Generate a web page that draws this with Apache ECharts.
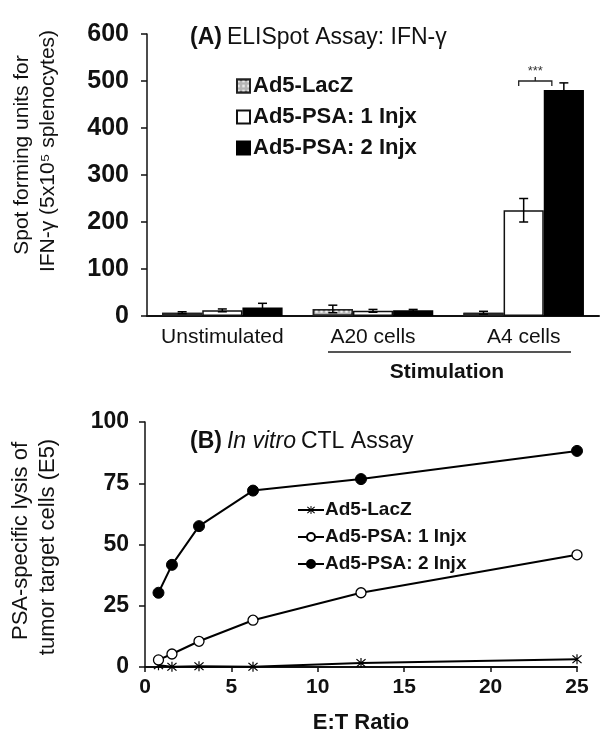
<!DOCTYPE html>
<html>
<head>
<meta charset="utf-8">
<script src="https://cdn.jsdelivr.net/npm/echarts@6/dist/echarts.min.js"></script>
<style>
  html, body { margin: 0; padding: 0; background: #fff; }
  #chart { width: 600px; height: 735px; }
</style>
</head>
<body>
<div id="chart"></div>
<script>
// (A) ELISpot
const categories = ['Unstimulated', 'A20 cells', 'A4 cells'];
const laczSpots = [7, 15, 7];
const laczErr = [2, 8, 3];
const psa1Spots = [12, 11, 225];
const psa1Err = [3, 3, 25];
const psa2Spots = [18, 12, 481];
const psa2Err = [9, 2, 15];
const sigMark = [2, 500]; // category index, level of the *** bracket

// (B) CTL assay
const etRatio = [0.78, 1.56, 3.125, 6.25, 12.5, 25];
const laczLysis = [0.7, 0.1, 0.3, 0.1, 1.6, 3.2];
const psa1Lysis = [2.9, 5.3, 10.5, 19.1, 30.3, 45.8];
const psa2Lysis = [30.3, 41.7, 57.5, 72, 76.7, 88.2];

const FONT = '"Liberation Sans", Arial, sans-serif';
const INK = '#111';
const star = 'path://M9 0L11 0L11 20L9 20Z M1.5 3L3 1.5L18.5 17L17 18.5Z M17 1.5L18.5 3L3 18.5L1.5 17Z';

function errorSeries(values, errs, pos) {
  return {
    type: 'custom',
    xAxisIndex: 0,
    yAxisIndex: 0,
    silent: true,
    z: 5,
    data: values.map((v, i) => [i, v, errs[i]]),
    renderItem: function (params, api) {
      const i = api.value(0), v = api.value(1), e = api.value(2);
      const band = api.size([1, 0])[0];
      const x = api.coord([i, v])[0] + (pos - 1) * band * 0.8 / 3;
      const top = api.coord([i, v + e])[1];
      const bot = api.coord([i, Math.max(v - e, 0)])[1];
      const cap = 4.5;
      const style = { stroke: '#000', lineWidth: 1.5 };
      return {
        type: 'group',
        children: [
          { type: 'line', shape: { x1: x, y1: top, x2: x, y2: bot }, style },
          { type: 'line', shape: { x1: x - cap, y1: top, x2: x + cap, y2: top }, style },
          { type: 'line', shape: { x1: x - cap, y1: bot, x2: x + cap, y2: bot }, style }
        ]
      };
    }
  };
}

const chart = echarts.init(document.getElementById('chart'));

const option = {
  animation: false,
  backgroundColor: '#fff',
  textStyle: { fontFamily: FONT, color: INK },
  title: [
    {
      text: '{b|(A)} {n|ELISpot Assay: IFN-γ}',
      left: 185, top: 20,
      textStyle: {
        fontWeight: 'normal',
        rich: {
          b: { fontFamily: FONT, fontSize: 23, fontWeight: 'bold', color: INK, lineHeight: 26 },
          n: { fontFamily: FONT, fontSize: 23, fontWeight: 'normal', color: INK, lineHeight: 26 }
        }
      }
    },
    {
      text: '{b|(B)} {i|In vitro} {n|CTL Assay}',
      left: 185, top: 424,
      textStyle: {
        fontWeight: 'normal',
        rich: {
          b: { fontFamily: FONT, fontSize: 23, fontWeight: 'bold', color: INK, lineHeight: 26 },
          i: { fontFamily: FONT, fontSize: 23, fontWeight: 'normal', fontStyle: 'italic', color: INK, lineHeight: 26 },
          n: { fontFamily: FONT, fontSize: 23, fontWeight: 'normal', color: INK, lineHeight: 26 }
        }
      }
    }
  ],
  legend: [
    {
      data: ['Ad5-LacZ', 'Ad5-PSA: 1 Injx', 'Ad5-PSA: 2 Injx'],
      orient: 'vertical',
      left: 231, top: 70,
      icon: 'rect',
      itemWidth: 13, itemHeight: 13,
      itemGap: 9,
      selectedMode: false,
      textStyle: { fontFamily: FONT, fontSize: 22, fontWeight: 'bold', color: INK, lineHeight: 22, padding: [0, 0, 0, -2] }
    },
    {
      data: ['Ad5-LacZ ', 'Ad5-PSA: 1 Injx ', 'Ad5-PSA: 2 Injx '],
      orient: 'vertical',
      left: 292, top: 495,
      itemWidth: 26, itemHeight: 10,
      itemGap: 7,
      selectedMode: false,
      formatter: name => name.trim(),
      textStyle: { fontFamily: FONT, fontSize: 19, fontWeight: 'bold', color: INK, lineHeight: 20, padding: [0, 0, 0, -4] }
    }
  ],
  grid: [
    { left: 147, top: 34, width: 452, height: 282 },
    { left: 145, top: 422, width: 432, height: 252 }
  ],
  xAxis: [
    {
      type: 'category',
      gridIndex: 0,
      data: categories,
      axisLine: { lineStyle: { color: '#111', width: 2 } },
      axisTick: { show: false },
      axisLabel: { interval: 0, fontFamily: FONT, fontSize: 21, color: INK, margin: 11 }
    },
    {
      type: 'value',
      gridIndex: 1,
      min: 0, max: 25, interval: 5,
      splitLine: { show: false },
      axisLine: { onZero: false, lineStyle: { color: '#111', width: 2 } },
      axisTick: { show: true, length: 5, lineStyle: { color: '#111', width: 1.5 } },
      axisLabel: { fontFamily: FONT, fontSize: 21, fontWeight: 'bold', color: INK, margin: 10 },
      name: 'E:T Ratio',
      nameLocation: 'middle',
      nameGap: 45,
      nameTextStyle: { fontFamily: FONT, fontSize: 22, fontWeight: 'bold', color: INK }
    }
  ],
  yAxis: [
    {
      type: 'value',
      gridIndex: 0,
      min: 0, max: 600, interval: 100,
      splitLine: { show: false },
      axisLine: { show: true, lineStyle: { color: '#111', width: 1.5 } },
      axisTick: { show: true, length: 6, lineStyle: { color: '#111', width: 1.5 } },
      axisLabel: { fontFamily: FONT, fontSize: 25, fontWeight: 'bold', color: INK, margin: 18 }
    },
    {
      type: 'value',
      gridIndex: 1,
      min: 0, max: 100, interval: 25,
      splitLine: { show: false },
      axisLine: { show: true, lineStyle: { color: '#111', width: 1.5 } },
      axisTick: { show: true, length: 6, lineStyle: { color: '#111', width: 1.5 } },
      axisLabel: { fontFamily: FONT, fontSize: 23, fontWeight: 'bold', color: INK, margin: 16 }
    }
  ],
  series: [
    {
      name: 'Ad5-LacZ',
      type: 'bar',
      xAxisIndex: 0, yAxisIndex: 0,
      data: laczSpots,
      barGap: 0,
      barCategoryGap: '20%',
      itemStyle: {
        color: '#b5b5b5',
        borderColor: '#222',
        borderWidth: 1.5,
        decal: {
          symbol: 'rect',
          symbolSize: 0.8,
          color: 'rgba(255,255,255,0.85)',
          dashArrayX: [3, 2],
          dashArrayY: [3, 2],
          rotation: 0
        }
      }
    },
    {
      name: 'Ad5-PSA: 1 Injx',
      type: 'bar',
      xAxisIndex: 0, yAxisIndex: 0,
      data: psa1Spots,
      barGap: 0,
      barCategoryGap: '20%',
      itemStyle: { color: '#fff', borderColor: '#111', borderWidth: 1.5 }
    },
    {
      name: 'Ad5-PSA: 2 Injx',
      type: 'bar',
      xAxisIndex: 0, yAxisIndex: 0,
      data: psa2Spots,
      barGap: 0,
      barCategoryGap: '20%',
      itemStyle: { color: '#000', borderColor: '#000', borderWidth: 1.5 }
    },
    errorSeries(laczSpots, laczErr, 0),
    errorSeries(psa1Spots, psa1Err, 1),
    errorSeries(psa2Spots, psa2Err, 2),
    {
      type: 'custom',
      xAxisIndex: 0, yAxisIndex: 0,
      silent: true,
      z: 6,
      data: [sigMark],
      renderItem: function (params, api) {
        const c = api.coord([api.value(0), api.value(1)]);
        const band = api.size([1, 0])[0];
        const left = c[0] - 0.033 * band;
        const right = c[0] + 0.187 * band;
        const mid = (left + right) / 2;
        const y = c[1];
        const style = { stroke: '#222', lineWidth: 1.3, fill: null };
        return {
          type: 'group',
          children: [
            { type: 'polyline', shape: { points: [[left, y + 5], [left, y], [right, y], [right, y + 5]] }, style },
            { type: 'line', shape: { x1: mid, y1: y, x2: mid, y2: y - 4 }, style },
            {
              type: 'text',
              style: {
                text: '***', x: mid, y: y - 10,
                align: 'center', verticalAlign: 'middle',
                font: '13px ' + FONT, fill: '#333'
              }
            }
          ]
        };
      }
    },
    {
      name: 'Ad5-LacZ ',
      type: 'line',
      xAxisIndex: 1, yAxisIndex: 1,
      data: etRatio.map((x, i) => [x, laczLysis[i]]),
      symbol: star,
      symbolSize: 10,
      lineStyle: { color: '#000', width: 2 },
      itemStyle: { color: '#000' },
      z: 3
    },
    {
      name: 'Ad5-PSA: 1 Injx ',
      type: 'line',
      xAxisIndex: 1, yAxisIndex: 1,
      data: etRatio.map((x, i) => [x, psa1Lysis[i]]),
      symbol: 'circle',
      symbolSize: 10,
      showSymbol: true,
      lineStyle: { color: '#000', width: 2 },
      itemStyle: { color: '#fff', borderColor: '#000', borderWidth: 1.3 },
      z: 4
    },
    {
      name: 'Ad5-PSA: 2 Injx ',
      type: 'line',
      xAxisIndex: 1, yAxisIndex: 1,
      data: etRatio.map((x, i) => [x, psa2Lysis[i]]),
      symbol: 'circle',
      symbolSize: 11,
      lineStyle: { color: '#000', width: 2 },
      itemStyle: { color: '#000', borderColor: '#000', borderWidth: 1 },
      z: 4
    }
  ],
  graphic: [
    {
      type: 'text', x: 22, y: 155, rotation: Math.PI / 2,
      style: { text: 'Spot forming units for', font: '21px ' + FONT, fill: INK, align: 'center', verticalAlign: 'middle' }
    },
    {
      type: 'text', x: 48, y: 151, rotation: Math.PI / 2,
      style: { text: 'IFN-γ (5x10⁵ splenocytes)', font: '21px ' + FONT, fill: INK, align: 'center', verticalAlign: 'middle' }
    },
    {
      type: 'line',
      shape: { x1: 328, y1: 352, x2: 571, y2: 352 },
      style: { stroke: '#555', lineWidth: 2 }
    },
    {
      type: 'text', x: 447, y: 372,
      style: { text: 'Stimulation', font: 'bold 21px ' + FONT, fill: INK, align: 'center', verticalAlign: 'middle' }
    },
    {
      type: 'text', x: 21, y: 541, rotation: Math.PI / 2,
      style: { text: 'PSA-specific lysis of', font: '22px ' + FONT, fill: INK, align: 'center', verticalAlign: 'middle' }
    },
    {
      type: 'text', x: 48, y: 547, rotation: Math.PI / 2,
      style: { text: 'tumor target cells (E5)', font: '22px ' + FONT, fill: INK, align: 'center', verticalAlign: 'middle' }
    }
  ]
};

chart.setOption(option);
</script>
</body>
</html>
